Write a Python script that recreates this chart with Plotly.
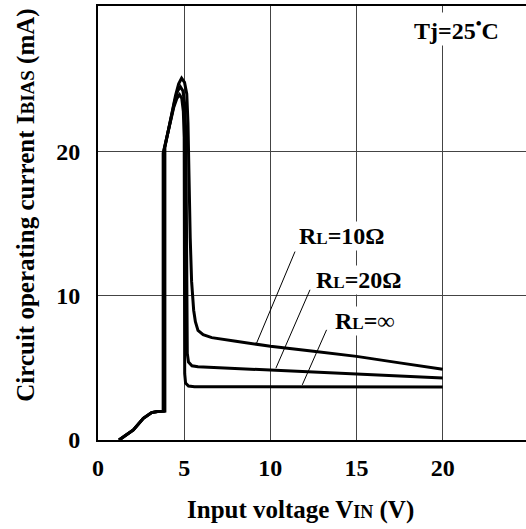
import plotly.graph_objects as go

# ---- data ----
base_v = [1.22, 1.6, 2.05, 2.63, 3.11, 3.45, 3.69]
base_i = [0.0, 0.3, 0.7, 1.5, 1.9, 1.97, 2.0]

r10_v = [3.88, 3.88, 4.2, 4.5, 4.68, 4.85, 5.02, 5.15, 5.22, 5.28, 5.35, 5.43, 5.55, 5.65, 5.8, 6.1, 6.6, 8.0, 10.0, 12.5, 15.0, 17.5, 20.0]
r10_i = [2.0, 20.3, 22.2, 23.9, 24.7, 25.1, 24.8, 24.0, 22.0, 18.0, 14.0, 11.0, 9.0, 8.2, 7.6, 7.3, 7.1, 6.85, 6.5, 6.15, 5.8, 5.35, 4.9]

r20_v = [3.83, 3.83, 4.15, 4.45, 4.62, 4.78, 4.93, 5.03, 5.1, 5.13, 5.15, 5.18, 5.25, 5.45, 5.8, 10.0, 15.0, 20.0]
r20_i = [2.0, 20.1, 21.9, 23.5, 24.2, 24.5, 24.2, 23.3, 21.0, 15.0, 8.0, 6.0, 5.4, 5.15, 5.08, 4.85, 4.58, 4.3]

rinf_v = [3.78, 3.78, 4.1, 4.4, 4.58, 4.73, 4.86, 4.95, 5.0, 5.02, 5.03, 5.08, 5.25, 5.6, 20.0]
rinf_i = [2.0, 19.9, 21.6, 23.1, 23.7, 23.95, 23.7, 22.8, 21.0, 12.0, 4.6, 3.95, 3.74, 3.7, 3.68]

x_ticks = [0, 5, 10, 15, 20]
y_ticks = [0, 10, 20]

SUB = "font-size:17px"
labels = [f"R<span style='{SUB}'>L</span>=10Ω",
          f"R<span style='{SUB}'>L</span>=20Ω",
          f"R<span style='{SUB}'>L</span>=∞"]
label_pos = [(11.54, 14.17), (12.53, 11.1), (13.63, 8.26)]
leader_from = [(11.43, 13.07), (12.30, 10.42), (13.26, 7.64)]
leader_to = [(9.2, 6.72), (10.32, 4.98), (11.85, 3.82)]

FONT = "Liberation Serif"

fig = go.Figure()
for v, i in [(r10_v, r10_i), (r20_v, r20_i), (rinf_v, rinf_i)]:
    fig.add_trace(go.Scatter(x=base_v + v, y=base_i + i, mode="lines",
                             line=dict(color="black", width=3),
                             showlegend=False, hoverinfo="skip"))

for (x0, y0), (x1, y1) in zip(leader_from, leader_to):
    fig.add_trace(go.Scatter(x=[x0, x1], y=[y0, y1], mode="lines",
                             line=dict(color="black", width=1),
                             showlegend=False, hoverinfo="skip"))

for txt, (x, y) in zip(labels, label_pos):
    fig.add_annotation(x=x, y=y, text=f"<b>{txt}</b>", showarrow=False,
                       xanchor="left", yanchor="middle", bgcolor="white",
                       font=dict(family=FONT, size=24, color="black"))

fig.add_annotation(x=18.2, y=28.5, text="<b>Tj=25<sup>•</sup>C</b>", showarrow=False,
                   xanchor="left", yanchor="middle", bgcolor="white",
                   font=dict(family=FONT, size=24, color="black"))

fig.add_annotation(xref="paper", yref="paper", x=0.474, y=-0.161,
                   text="<b>Input voltage V<span style='font-size:18px'>IN</span> (V)</b>",
                   showarrow=False, xanchor="center", yanchor="middle",
                   font=dict(family=FONT, size=25, color="black"))
fig.add_annotation(xref="paper", yref="paper", x=-0.168, y=0.54,
                   text="<b>Circuit operating current I<span style='font-size:19px'>BIAS</span> (mA)</b>",
                   showarrow=False, xanchor="center", yanchor="middle", textangle=-90,
                   font=dict(family=FONT, size=25, color="black"))

fig.update_layout(
    width=526, height=529,
    margin=dict(l=98, r=0, t=6, b=89, autoexpand=False),
    paper_bgcolor="white", plot_bgcolor="white",
    font=dict(family=FONT, size=24, color="black"),
)
fig.update_xaxes(range=[0, 24.83], tickvals=x_ticks, ticktext=[f"<b>{t}</b>" for t in x_ticks],
                 showgrid=True, gridcolor="#444", gridwidth=1, zeroline=False,
                 showline=True, linecolor="black", linewidth=2, mirror=True,
                 ticks="", ticklabelstandoff=5, automargin=False)
fig.update_yaxes(range=[0, 30.1], tickvals=y_ticks, ticktext=[f"<b>{t}</b>" for t in y_ticks],
                 showgrid=True, gridcolor="#444", gridwidth=1, zeroline=False,
                 showline=True, linecolor="black", linewidth=2, mirror=False,
                 ticks="", ticklabelstandoff=11, automargin=False)

fig.write_html("out.html", config={"displayModeBar": False},
               post_script="document.body.style.margin='0';document.body.style.overflow='hidden';")
